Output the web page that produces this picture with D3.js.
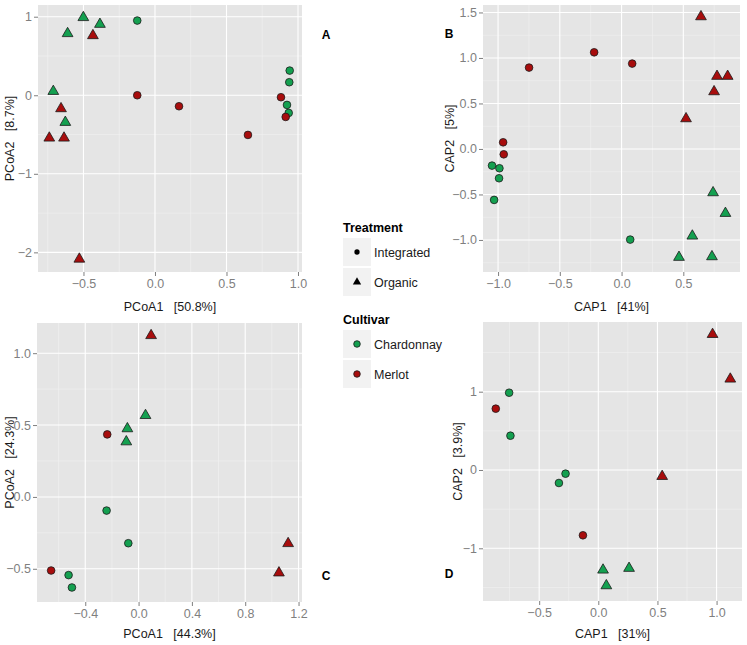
<!DOCTYPE html>
<html>
<head>
<meta charset="utf-8">
<script src="https://cdn.jsdelivr.net/npm/d3@7"></script>
<style>
  body { margin: 0; background: #fff; }
  svg { font-family: "Liberation Sans", Arial, sans-serif; }
</style>
</head>
<body>
<svg id="fig" width="747" height="645"></svg>
<script>
// groups: t = treatment (I integrated, O organic), c = cultivar (C chardonnay, M merlot)
var treatments = ["Integrated", "Organic"];
var cultivars = ["Chardonnay", "Merlot"];

// panel A  PCoA
var pointsA = [
  {x: -0.501, y: 0.99, t: "O", c: "C"}, {x: -0.611, y: 0.786, t: "O", c: "C"},
  {x: -0.385, y: 0.904, t: "O", c: "C"}, {x: -0.711, y: 0.05, t: "O", c: "C"},
  {x: -0.627, y: -0.344, t: "O", c: "C"},
  {x: -0.434, y: 0.76, t: "O", c: "M"}, {x: -0.657, y: -0.17, t: "O", c: "M"},
  {x: -0.739, y: -0.544, t: "O", c: "M"}, {x: -0.636, y: -0.544, t: "O", c: "M"},
  {x: -0.529, y: -2.085, t: "O", c: "M"},
  {x: -0.124, y: 0.951, t: "I", c: "C"}, {x: 0.942, y: 0.314, t: "I", c: "C"},
  {x: 0.939, y: 0.166, t: "I", c: "C"}, {x: 0.923, y: -0.123, t: "I", c: "C"},
  {x: 0.935, y: -0.225, t: "I", c: "C"},
  {x: -0.124, y: 0.0, t: "I", c: "M"}, {x: 0.168, y: -0.14, t: "I", c: "M"},
  {x: 0.650, y: -0.505, t: "I", c: "M"}, {x: 0.881, y: -0.025, t: "I", c: "M"},
  {x: 0.914, y: -0.276, t: "I", c: "M"}
];

// panel B  CAP
var pointsB = [
  {x: -0.749, y: 0.894, t: "I", c: "M"}, {x: -0.222, y: 1.062, t: "I", c: "M"},
  {x: 0.086, y: 0.938, t: "I", c: "M"}, {x: -0.959, y: 0.073, t: "I", c: "M"},
  {x: -0.954, y: -0.059, t: "I", c: "M"},
  {x: -1.049, y: -0.183, t: "I", c: "C"}, {x: -0.989, y: -0.212, t: "I", c: "C"},
  {x: -0.992, y: -0.322, t: "I", c: "C"}, {x: -1.032, y: -0.560, t: "I", c: "C"},
  {x: 0.070, y: -0.996, t: "I", c: "C"},
  {x: 0.643, y: 1.454, t: "O", c: "M"}, {x: 0.773, y: 0.799, t: "O", c: "M"},
  {x: 0.859, y: 0.799, t: "O", c: "M"}, {x: 0.749, y: 0.630, t: "O", c: "M"},
  {x: 0.522, y: 0.333, t: "O", c: "M"},
  {x: 0.741, y: -0.48, t: "O", c: "C"}, {x: 0.841, y: -0.707, t: "O", c: "C"},
  {x: 0.573, y: -0.956, t: "O", c: "C"}, {x: 0.465, y: -1.19, t: "O", c: "C"},
  {x: 0.732, y: -1.183, t: "O", c: "C"}
];

// panel C  PCoA
var pointsC = [
  {x: 0.094, y: 1.123, t: "O", c: "M"}, {x: 1.122, y: -0.324, t: "O", c: "M"},
  {x: 1.053, y: -0.528, t: "O", c: "M"},
  {x: 0.052, y: 0.567, t: "O", c: "C"}, {x: -0.084, y: 0.475, t: "O", c: "C"},
  {x: -0.092, y: 0.384, t: "O", c: "C"},
  {x: -0.235, y: 0.435, t: "I", c: "M"}, {x: -0.656, y: -0.512, t: "I", c: "M"},
  {x: -0.240, y: -0.095, t: "I", c: "C"}, {x: -0.077, y: -0.322, t: "I", c: "C"},
  {x: -0.525, y: -0.544, t: "I", c: "C"}, {x: -0.500, y: -0.630, t: "I", c: "C"}
];

// panel D  CAP
var pointsD = [
  {x: 0.966, y: 1.732, t: "O", c: "M"}, {x: 1.116, y: 1.162, t: "O", c: "M"},
  {x: 0.540, y: -0.081, t: "O", c: "M"},
  {x: 0.040, y: -1.277, t: "O", c: "C"}, {x: 0.260, y: -1.255, t: "O", c: "C"},
  {x: 0.068, y: -1.477, t: "O", c: "C"},
  {x: -0.754, y: 0.987, t: "I", c: "C"}, {x: -0.743, y: 0.438, t: "I", c: "C"},
  {x: -0.277, y: -0.047, t: "I", c: "C"}, {x: -0.333, y: -0.166, t: "I", c: "C"},
  {x: -0.867, y: 0.783, t: "I", c: "M"}, {x: -0.130, y: -0.834, t: "I", c: "M"}
];

var ticksA = {x: [-0.5, 0, 0.5, 1.0], y: [-2, -1, 0, 1]};
var ticksB = {x: [-1.0, -0.5, 0, 0.5], y: [-1.0, -0.5, 0, 0.5, 1.0, 1.5]};
var ticksC = {x: [-0.4, 0, 0.4, 0.8, 1.2], y: [-0.5, 0, 0.5, 1.0]};
var ticksD = {x: [-0.5, 0, 0.5, 1.0], y: [-1, 0, 1]};

var fill = {C: "#14a050", M: "#a80d0d"};
var font = "'Liberation Sans', Arial, sans-serif";

var svg = d3.select("#fig");

var panels = [
  {pts: pointsA, ticks: ticksA, box: [38, 5, 302, 272], xd: [-0.818, 1.028], yd: [-2.25, 1.149],
   xfmt: ".1f", yfmt: "d", xlab: "PCoA1   [50.8%]", ylab: "PCoA2   [8.7%]",
   xlabY: 311, ylabX: 14, letter: "A", lx: 326, ly: 39},
  {pts: pointsB, ticks: ticksB, box: [483, 5, 740, 272], xd: [-1.122, 0.959], yd: [-1.352, 1.582],
   xfmt: ".1f", yfmt: ".1f", xlab: "CAP1   [41%]", ylab: "CAP2   [5%]",
   xlabY: 311, ylabX: 454, letter: "B", lx: 449, ly: 38},
  {pts: pointsC, ticks: ticksC, box: [37, 323, 302, 602], xd: [-0.762, 1.226], yd: [-0.731, 1.21],
   xfmt: ".1f", yfmt: ".1f", xlab: "PCoA1   [44.3%]", ylab: "PCoA2   [24.3%]",
   xlabY: 638, ylabX: 14, letter: "C", lx: 326, ly: 580},
  {pts: pointsD, ticks: ticksD, box: [483, 322, 742, 601], xd: [-0.975, 1.215], yd: [-1.673, 1.89],
   xfmt: ".1f", yfmt: "d", xlab: "CAP1   [31%]", ylab: "CAP2   [3.9%]",
   xlabY: 638, ylabX: 462, letter: "D", lx: 449, ly: 578}
];

var minorOf = function (ticks, dom) {
  var step = ticks[1] - ticks[0];
  var out = [];
  for (var v = ticks[0] - step / 2; v <= dom[1]; v += step) {
    if (v >= dom[0]) out.push(v);
  }
  return out;
};

var drawPanel = function (p) {
  var x = d3.scaleLinear().domain(p.xd).range([p.box[0], p.box[2]]);
  var y = d3.scaleLinear().domain(p.yd).range([p.box[3], p.box[1]]);
  var g = svg.append("g");

  g.append("rect")
    .attr("x", p.box[0]).attr("y", p.box[1])
    .attr("width", p.box[2] - p.box[0]).attr("height", p.box[3] - p.box[1])
    .attr("fill", "#e5e5e5");

  // minor grid
  g.selectAll(".mx").data(minorOf(p.ticks.x, p.xd)).enter().append("line")
    .attr("x1", x).attr("x2", x).attr("y1", p.box[1]).attr("y2", p.box[3])
    .attr("stroke", "#f2f2f2").attr("stroke-width", 0.6);
  g.selectAll(".my").data(minorOf(p.ticks.y, p.yd)).enter().append("line")
    .attr("y1", y).attr("y2", y).attr("x1", p.box[0]).attr("x2", p.box[2])
    .attr("stroke", "#f2f2f2").attr("stroke-width", 0.6);

  // axes with major grid
  var xa = g.append("g").attr("transform", "translate(0," + p.box[3] + ")")
    .call(d3.axisBottom(x).tickValues(p.ticks.x).tickFormat(d3.format(p.xfmt)).tickSize(4).tickPadding(3));
  var ya = g.append("g").attr("transform", "translate(" + p.box[0] + ",0)")
    .call(d3.axisLeft(y).tickValues(p.ticks.y).tickFormat(d3.format(p.yfmt)).tickSize(4).tickPadding(2));
  [xa, ya].forEach(function (a) {
    a.attr("font-family", font).attr("font-size", 12.5);
    a.select(".domain").remove();
    a.selectAll(".tick line").attr("stroke", "#7f7f7f");
    a.selectAll(".tick text").attr("fill", "#7f7f7f");
  });

  g.selectAll(".gx").data(p.ticks.x).enter().append("line")
    .attr("x1", x).attr("x2", x).attr("y1", p.box[1]).attr("y2", p.box[3])
    .attr("stroke", "#fff").attr("stroke-width", 1.1);
  g.selectAll(".gy").data(p.ticks.y).enter().append("line")
    .attr("y1", y).attr("y2", y).attr("x1", p.box[0]).attr("x2", p.box[2])
    .attr("stroke", "#fff").attr("stroke-width", 1.1);

  // points
  g.selectAll(".pt").data(p.pts).enter().append("path")
    .attr("transform", function (d) { return "translate(" + x(d.x) + "," + y(d.y) + ")"; })
    .attr("d", function (d) {
      return d.t === "I" ? d3.symbol(d3.symbolCircle, 46)() : d3.symbol(d3.symbolTriangle, 50)();
    })
    .attr("fill", function (d) { return fill[d.c]; })
    .attr("stroke", "#1a1a1a").attr("stroke-width", 0.8);

  // titles
  g.append("text").attr("x", (p.box[0] + p.box[2]) / 2).attr("y", p.xlabY)
    .attr("text-anchor", "middle").attr("font-size", 12.5).attr("fill", "#1a1a1a")
    .attr("xml:space", "preserve").text(p.xlab);
  g.append("text").attr("transform", "translate(" + p.ylabX + "," + (p.box[1] + p.box[3]) / 2 + ") rotate(-90)")
    .attr("text-anchor", "middle").attr("font-size", 12.5).attr("fill", "#1a1a1a")
    .attr("xml:space", "preserve").text(p.ylab);
  g.append("text").attr("x", p.lx).attr("y", p.ly).attr("text-anchor", "middle")
    .attr("font-size", 12).attr("font-weight", "bold").attr("fill", "#000").text(p.letter);
};

panels.forEach(drawPanel);

// legends
var legend = svg.append("g");
var keyX = 343, keyW = 28;

var drawLegend = function (title, items, top, shapeFn) {
  legend.append("text").attr("x", keyX).attr("y", top).attr("font-size", 12.5)
    .attr("font-weight", "bold").attr("fill", "#000").text(title);
  items.forEach(function (name, i) {
    var ky = top + 6 + i * 30;
    legend.append("rect").attr("x", keyX).attr("y", ky).attr("width", keyW).attr("height", keyW)
      .attr("fill", "#f2f2f2");
    shapeFn(legend.append("path").attr("transform", "translate(" + (keyX + keyW / 2) + "," + (ky + keyW / 2) + ")"), i);
    legend.append("text").attr("x", keyX + keyW + 3).attr("y", ky + keyW / 2 + 4.5)
      .attr("font-size", 12.5).attr("fill", "#1a1a1a").text(name);
  });
};

drawLegend("Treatment", treatments, 232, function (sel, i) {
  sel.attr("d", d3.symbol(i === 0 ? d3.symbolCircle : d3.symbolTriangle, i === 0 ? 22 : 30)())
    .attr("fill", "#000");
});
drawLegend("Cultivar", cultivars, 324, function (sel, i) {
  sel.attr("d", d3.symbol(d3.symbolCircle, 34)())
    .attr("fill", i === 0 ? fill.C : fill.M).attr("stroke", "#1a1a1a").attr("stroke-width", 0.8);
});
</script>
</body>
</html>
